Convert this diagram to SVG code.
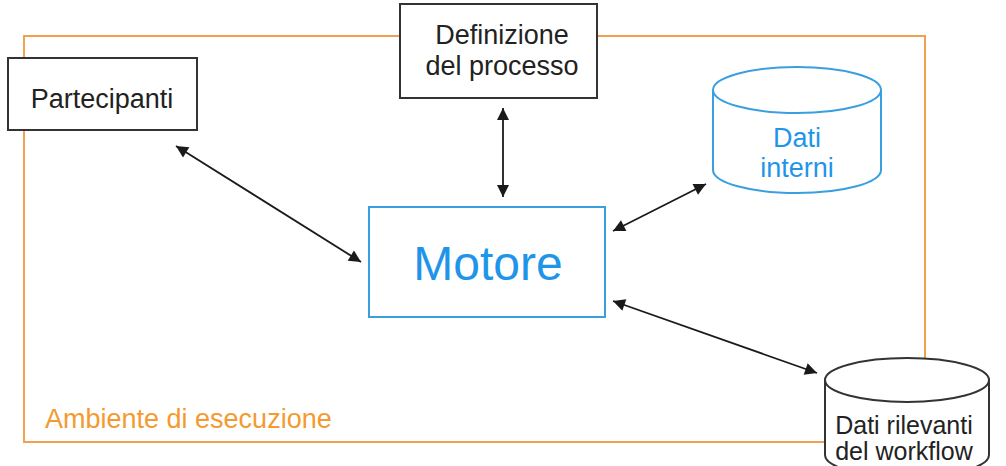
<svg xmlns="http://www.w3.org/2000/svg" width="1006" height="466" viewBox="0 0 1006 466">
<defs>
<style>
.t{font-family:"Liberation Sans",Arial,sans-serif;text-anchor:middle}
.box{fill:#fff;stroke:#333;stroke-width:2}
.blue{fill:#fff;stroke:#3a9fdf;stroke-width:2}
.conn{stroke:#1a1a1a;stroke-width:1.8;fill:none;marker-start:url(#ah);marker-end:url(#ah)}
</style>
<marker id="ah" viewBox="0 0 10 10" refX="10" refY="5" markerUnits="userSpaceOnUse" markerWidth="15" markerHeight="12" orient="auto-start-reverse">
<path d="M0,0 L10,5 L0,10 z" fill="#1a1a1a"/>
</marker>
</defs>
<rect width="1006" height="466" fill="#fff"/>
<g id="ambiente">
<rect x="24" y="36" width="901" height="406" fill="none" stroke="#f0a050" stroke-width="2"/>
<text class="t" x="45" y="428" style="text-anchor:start" font-size="27" fill="#f39a30">Ambiente di esecuzione</text>
</g>
<g id="connectors">
<line class="conn" x1="176" y1="146" x2="361" y2="262"/>
<line class="conn" x1="503" y1="108" x2="503" y2="197"/>
<line class="conn" x1="613" y1="231" x2="706" y2="184"/>
<line class="conn" x1="613" y1="301" x2="817" y2="373"/>
</g>
<g id="partecipanti">
<rect class="box" x="8" y="58" width="189" height="72"/>
<text class="t" x="102" y="108" font-size="27" fill="#222">Partecipanti</text>
</g>
<g id="definizione">
<rect class="box" x="400" y="4" width="197" height="94"/>
<text class="t" x="502" y="44" font-size="27" fill="#222">Definizione</text>
<text class="t" x="502" y="75" font-size="27" fill="#222">del processo</text>
</g>
<g id="motore">
<rect class="blue" x="369" y="207" width="236" height="110"/>
<text class="t" x="488" y="280" font-size="48" fill="#1f95ea">Motore</text>
</g>
<g id="dati-interni">
<path class="blue" d="M713,90 L713,170 A84,23 0 0 0 881,170 L881,90"/>
<ellipse class="blue" cx="797" cy="90" rx="84" ry="23"/>
<text class="t" x="797" y="147" font-size="27" fill="#1f95ea">Dati</text>
<text class="t" x="797" y="177" font-size="27" fill="#1f95ea">interni</text>
</g>
<g id="dati-rilevanti">
<path class="box" d="M825,380 L825,455 A82,22 0 0 0 989,455 L989,380"/>
<ellipse class="box" cx="907" cy="380" rx="82" ry="22"/>
<text class="t" x="904" y="434" font-size="25" fill="#222">Dati rilevanti</text>
<text class="t" x="904" y="460" font-size="25" fill="#222">del workflow</text>
</g>
</svg>
